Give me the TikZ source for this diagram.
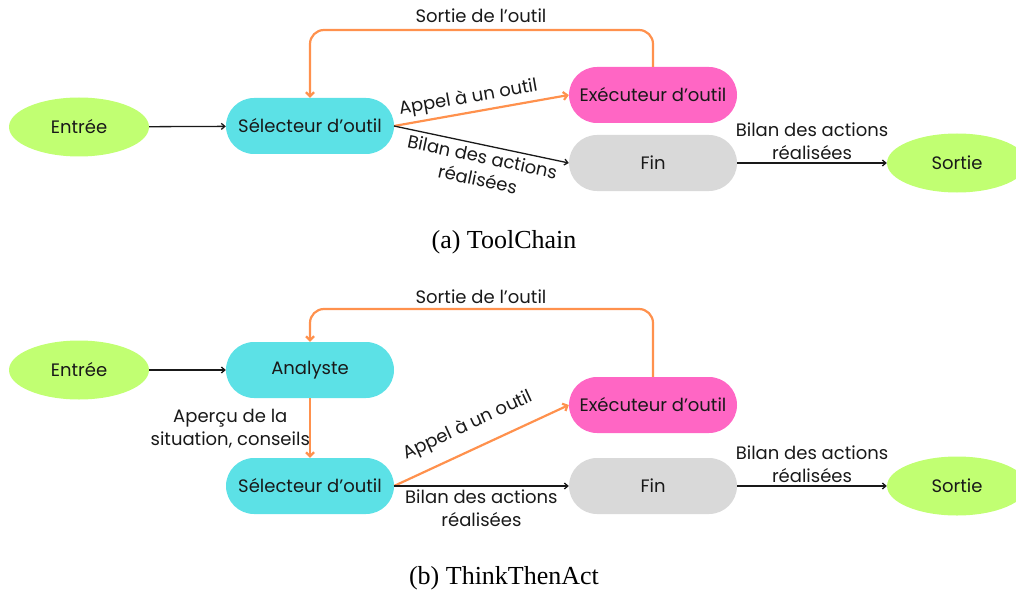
\documentclass[tikz,border=0pt]{standalone}
\usepackage{fontspec}
\setmainfont{Poppins}
\newfontfamily\capfont{Liberation Serif}
\usetikzlibrary{arrows.meta,shapes.geometric}
\definecolor{cyanbox}{HTML}{5CE1E6}
\definecolor{pinkbox}{HTML}{FF66C4}
\definecolor{greybox}{HTML}{D9D9D9}
\definecolor{greenell}{HTML}{C1FF72}
\definecolor{orangeln}{HTML}{FF914D}
\tikzset{
  x=1pt, y=-1pt,
  every node/.style={font=\fontsize{18}{23}\selectfont, text=black!90},
  pill/.style={rounded corners=28pt, minimum width=168pt, minimum height=56pt, inner sep=0pt},
  ell/.style={ellipse, fill=greenell, minimum width=140pt, minimum height=59pt, inner sep=0pt},
  blk/.style={draw=black!90, line width=1.3pt, -{Straight Barb[length=3.5pt,width=6pt]}},
  org/.style={draw=orangeln, line width=2.2pt, -{Straight Barb[length=4pt,width=8pt]}},
  lbl/.style={align=center, inner sep=1pt},
  captext/.style={font=\capfont\fontsize{26}{30}\selectfont, text=black}
}
\begin{document}
\begin{tikzpicture}
\useasboundingbox (0,0) rectangle (1016,596);
% ---------- (a) ----------
\node[ell] (inA) at (79,127) {Entrée};
\node[pill, fill=cyanbox] (selA) at (310,126) {Sélecteur d’outil};
\node[pill, fill=pinkbox] (exeA) at (653,95) {Exécuteur d’outil};
\node[pill, fill=greybox] (finA) at (653,163) {Fin};
\node[ell] (outA) at (957,163) {Sortie};
\coordinate (selAe) at (394,126);
\draw[blk] (inA) -- (selA);
\draw[org] (selAe) -- (exeA.west) node[pos=0.44, above, sloped, lbl, yshift=3pt] {Appel à un outil};
\draw[blk] (selAe) -- (finA.west) node[pos=0.52, below, sloped, lbl, yshift=-3pt] {Bilan des actions\\réalisées};
\draw[org, rounded corners=14pt] (exeA.north) -- (653,30) -- (310,30) -- (selA.north);
\node[lbl] (tA) at (481,16) {Sortie de l’outil};
\draw[blk] (finA) -- (outA) node[midway, above, lbl, yshift=2pt] {Bilan des actions\\réalisées};
\node[captext] (capA) at (504,242) {(a) ToolChain};
% ---------- (b) ----------
\node[ell] (inB) at (79,370) {Entrée};
\node[pill, fill=cyanbox] (anaB) at (310,370) {Analyste};
\node[pill, fill=cyanbox] (selB) at (310,486) {Sélecteur d’outil};
\node[pill, fill=pinkbox] (exeB) at (653,405) {Exécuteur d’outil};
\node[pill, fill=greybox] (finB) at (653,486) {Fin};
\node[ell] (outB) at (957,486) {Sortie};
\coordinate (selBe) at (394,486);
\draw[blk] (inB) -- (anaB);
\draw[org] (anaB) -- (selB) node[midway, left, lbl, xshift=2pt, yshift=-1pt] {Aperçu de la\\situation, conseils};
\draw[org] (selBe) -- (exeB.west) node[pos=0.48, above, sloped, lbl, yshift=12pt] {Appel à un outil};
\draw[blk] (selBe) -- (finB) node[midway, below, lbl, yshift=-2pt] {Bilan des actions\\réalisées};
\draw[org, rounded corners=14pt] (exeB.north) -- (653,309) -- (310,309) -- (anaB.north);
\node[lbl] (tB) at (481,297) {Sortie de l’outil};
\draw[blk] (finB) -- (outB) node[midway, above, lbl, yshift=2pt] {Bilan des actions\\réalisées};
\node[captext] (capB) at (504,578) {(b) ThinkThenAct};
\end{tikzpicture}
\end{document}
